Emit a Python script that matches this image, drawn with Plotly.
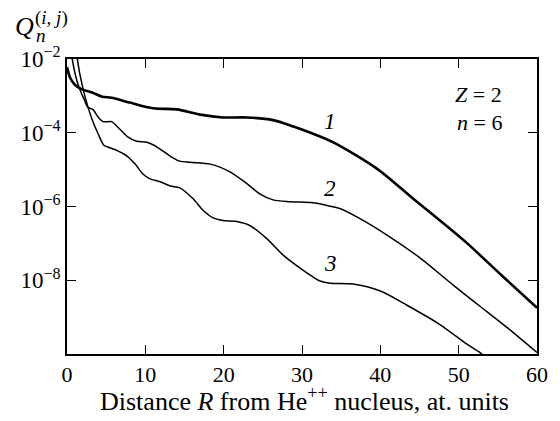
import math
import plotly.graph_objects as go

# ---- data ----
R1 = [0, 0.4, 1.0, 1.9, 3.2, 4.5, 5.7, 8.0, 11.0, 14.0, 17.0, 19.9, 23.0, 26.3,
      28.9, 31.0, 34.0, 39.6, 44.2, 48.9, 51.1, 55.5, 60]
Q1 = [6.0e-3, 3.1e-3, 2.0e-3, 1.5e-3, 1.23e-3, 9.5e-4, 8.9e-4, 6.6e-4, 4.6e-4,
      4.3e-4, 3.1e-4, 2.6e-4, 2.6e-4, 2.2e-4, 1.48e-4, 1.02e-4, 5.5e-5,
      1.05e-5, 1.62e-6, 2.5e-7, 1.0e-7, 1.35e-8, 1.78e-9]

R2 = [0.4, 0.64, 1.1, 1.5, 2.2, 2.7, 3.3, 4.0, 4.6, 5.7, 6.4, 7.7, 8.9, 10.2,
      11.5, 13.2, 14.4, 15.7, 18.3, 20.8, 23.0, 24.6, 26.3, 28.5, 31.4, 33.3,
      34.9, 37.4, 40.9, 45.1, 49.3, 53.6, 56.2, 60]
Q2 = [2.5e-2, 1.07e-2, 3.5e-3, 1.8e-3, 7.9e-4, 4.8e-4, 4.3e-4, 2.6e-4, 2.0e-4,
      2.0e-4, 1.48e-4, 7.9e-5, 5.9e-5, 5.5e-5, 4.1e-5, 2.3e-5, 1.7e-5,
      1.58e-5, 1.41e-5, 8.7e-6, 4.1e-6, 2.2e-6, 1.51e-6, 1.35e-6, 1.26e-6,
      1.05e-6, 8.7e-7, 4.7e-7, 1.66e-7, 4.0e-8, 7.4e-9, 1.41e-9, 5.2e-10,
      1.1e-10]

R3 = [1.0, 1.3, 1.66, 2.4, 3.2, 4.0, 4.7, 5.2, 6.1, 7.7, 8.7, 9.7, 10.6, 11.9,
      13.2, 14.4, 16.1, 17.4, 18.6, 19.9, 21.7, 23.4, 25.5, 27.6, 29.8, 31.4,
      32.3, 33.6, 36.5, 40.0, 43.4, 47.6, 51.1, 52.7, 54.0]
Q3 = [2.5e-2, 1.07e-2, 3.7e-3, 7.9e-4, 2.3e-4, 9.1e-5, 4.6e-5, 4.1e-5, 3.5e-5,
      2.3e-5, 1.41e-5, 7.6e-6, 5.6e-6, 4.7e-6, 3.6e-6, 3.2e-6, 1.62e-6,
      7.8e-7, 5.0e-7, 4.2e-7, 3.9e-7, 3.0e-7, 1.35e-7, 4.8e-8, 2.1e-8,
      1.23e-8, 9.5e-9, 8.3e-9, 7.9e-9, 5.1e-9, 2.1e-9, 6.3e-10, 1.82e-10,
      1.1e-10, 6.3e-11]

x_ticks = [0, 10, 20, 30, 40, 50, 60]
y_ticks = [1e-2, 1e-4, 1e-6, 1e-8]
y_ticktext = ["10<sup>−2</sup>", "10<sup>−4</sup>", "10<sup>−6</sup>", "10<sup>−8</sup>"]

curve_labels = ["1", "2", "3"]
label_R = [33.6, 33.6, 33.6]
label_Q = [2.0e-4, 3.0e-6, 2.9e-8]

x_title = "Distance <i>R</i> from He<sup>++</sup> nucleus, at. units"

FONT = "Liberation Serif, Times New Roman, serif"

# layout geometry (figure pixels; page shows the figure offset by 8 px)
W, H = 560, 421
ML, MR, MT, MB = 59, 31, 51, 75
PW, PH = W - ML - MR, H - MT - MB


def px(fx):
    return (fx - ML) / PW


def py(fy):
    return 1 - (fy - MT) / PH


fig = go.Figure()
for R, Q, w in [(R1, Q1, 2.6), (R2, Q2, 1.5), (R3, Q3, 1.5)]:
    fig.add_trace(go.Scatter(x=R, y=Q, mode="lines",
                             line=dict(color="black", width=w, shape="spline", smoothing=0.8),
                             showlegend=False, hoverinfo="skip"))

for t, rx, qy in zip(curve_labels, label_R, label_Q):
    fig.add_annotation(x=rx, y=math.log10(qy), xref="x", yref="y",
                       xanchor="center", yanchor="middle",
                       text="<i>%s</i>" % t, showarrow=False,
                       font=dict(family=FONT, size=23, color="black"))

fig.add_annotation(x=55.8, y=-2.97, xref="x", yref="y", xanchor="right", yanchor="middle",
                   text="<i>Z</i> = 2", showarrow=False,
                   font=dict(family=FONT, size=22, color="black"))
fig.add_annotation(x=55.8, y=-3.72, xref="x", yref="y", xanchor="right", yanchor="middle",
                   text="<i>n</i> = 6", showarrow=False,
                   font=dict(family=FONT, size=22, color="black"))

# y-axis label Q_n^(i,j) at top-left
fig.add_annotation(x=px(16), y=py(19), xref="paper", yref="paper",
                   xanchor="center", yanchor="middle",
                   text="<i>Q</i>", showarrow=False,
                   font=dict(family=FONT, size=26, color="black"))
fig.add_annotation(x=px(43), y=py(10), xref="paper", yref="paper",
                   xanchor="center", yanchor="middle",
                   text="(<i>i</i>, <i>j</i>)", showarrow=False, borderpad=0,
                   font=dict(family=FONT, size=19, color="black"))
fig.add_annotation(x=px(33), y=py(28), xref="paper", yref="paper",
                   xanchor="center", yanchor="middle",
                   text="<i>n</i>", showarrow=False, borderpad=0,
                   font=dict(family=FONT, size=19, color="black"))

# x-axis title
fig.add_annotation(x=px(296), y=py(391), xref="paper", yref="paper",
                   xanchor="center", yanchor="middle",
                   text=x_title, showarrow=False,
                   font=dict(family=FONT, size=26, color="black"))

fig.update_layout(
    width=W, height=H,
    margin=dict(l=ML, r=MR, t=MT, b=MB),
    paper_bgcolor="white", plot_bgcolor="white",
    font=dict(family=FONT, size=20, color="black"),
)

fig.update_xaxes(range=[0, 60], tickvals=x_ticks, ticks="inside", ticklen=9, tickwidth=1.3,
                 tickcolor="black", showline=True, linecolor="black", linewidth=1.5,
                 mirror="ticks", showgrid=False, zeroline=False, automargin=False,
                 tickfont=dict(family=FONT, size=22, color="black"))
fig.update_yaxes(type="log", range=[-10, -2], tickvals=y_ticks, ticktext=y_ticktext,
                 ticks="inside", ticklen=9, tickwidth=1.3, tickcolor="black",
                 showline=True, linecolor="black", linewidth=1.5, mirror="ticks",
                 showgrid=False, zeroline=False, automargin=False,
                 tickfont=dict(family=FONT, size=23, color="black"))

fig.write_html("out.html")
